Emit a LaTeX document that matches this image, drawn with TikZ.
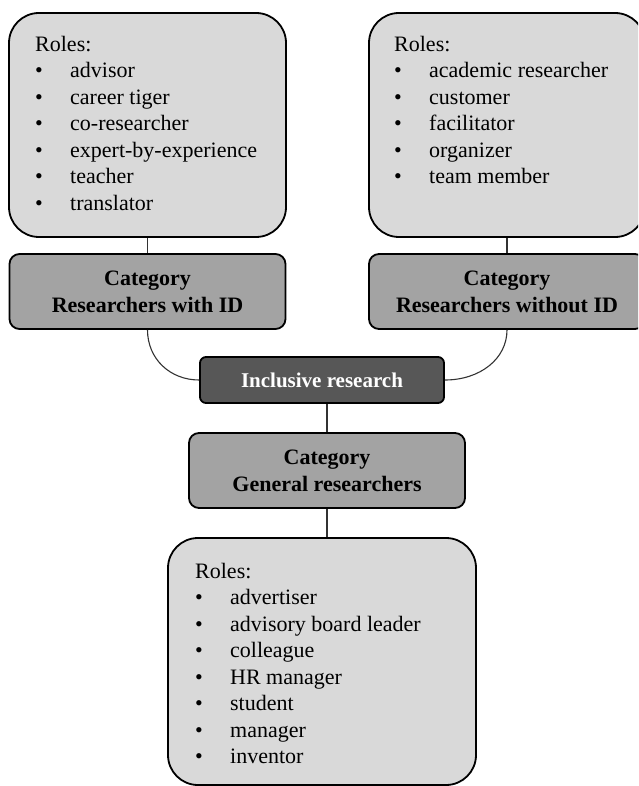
\documentclass[tikz,border=0pt]{standalone}
\usepackage{fontspec}
\setmainfont{Liberation Serif}
\definecolor{rolefill}{HTML}{D9D9D9}
\definecolor{catfill}{HTML}{A3A3A3}
\definecolor{inclfill}{HTML}{575757}
\newcommand\rb[1]{\makebox[35pt][l]{\textbullet}#1}
\tikzset{
 rolebox/.style={draw=black,line width=1.8pt,fill=rolefill,rounded corners=30pt,inner sep=0pt},
 catbox/.style={draw=black,line width=1.8pt,fill=catfill,rounded corners=10pt,inner sep=0pt,
   minimum width=276pt,minimum height=75pt,align=center,font=\fontsize{22}{27}\selectfont\bfseries},
 inclbox/.style={draw=black,line width=1.8pt,fill=inclfill,rounded corners=6pt,inner sep=0pt,
   minimum width=244pt,minimum height=46pt,text=white,font=\fontsize{21}{27}\selectfont\bfseries},
 roletext/.style={anchor=north west,inner sep=0pt,align=left,font=\fontsize{22}{26.5}\selectfont},
 conn/.style={draw=black!80,line width=1.1pt}
}
\begin{document}
\begin{tikzpicture}[x=1pt,y=-1pt]
\useasboundingbox (0,0) rectangle (638,786);
\clip (0,0) rectangle (638,786);
\node[rolebox,minimum width=277pt,minimum height=224pt] (rL) at (147.5,125) {};
\node[rolebox,minimum width=276pt,minimum height=224pt] (rR) at (507,125) {};
\node[catbox] (cL) at (147.5,291.5) {Category\\Researchers with ID};
\node[catbox] (cR) at (507,291.5) {Category\\Researchers without ID};
\node[inclbox] (inc) at (322,380) {Inclusive research};
\node[catbox] (cG) at (327,470.5) {Category\\General researchers};
\node[rolebox,minimum width=308pt,minimum height=247pt] (rB) at (322,661.5) {};
\node[roletext] (tL) at (35,36) {Roles:\\\rb{advisor}\\\rb{career tiger}\\\rb{co-researcher}\\\rb{expert-by-experience}\\\rb{teacher}\\\rb{translator}};
\node[roletext] (tR) at (394,36) {Roles:\\\rb{academic researcher}\\\rb{customer}\\\rb{facilitator}\\\rb{organizer}\\\rb{team member}};
\node[roletext] (tB) at (195,563) {Roles:\\\rb{advertiser}\\\rb{advisory board leader}\\\rb{colleague}\\\rb{HR manager}\\\rb{student}\\\rb{manager}\\\rb{inventor}};
\draw[conn] (rL.south) -- (cL.north);
\draw[conn] (rR.south) -- (cR.north);
\draw[conn] (cL.south) .. controls +(0,29) and +(-29,0) .. (inc.west);
\draw[conn] (cR.south) .. controls +(0,29) and +(35,0) .. (inc.east);
\draw[conn] (inc.south -| cG.north) -- (cG.north);
\draw[conn] (cG.south) -- (rB.north -| cG.south);
\end{tikzpicture}
\end{document}
